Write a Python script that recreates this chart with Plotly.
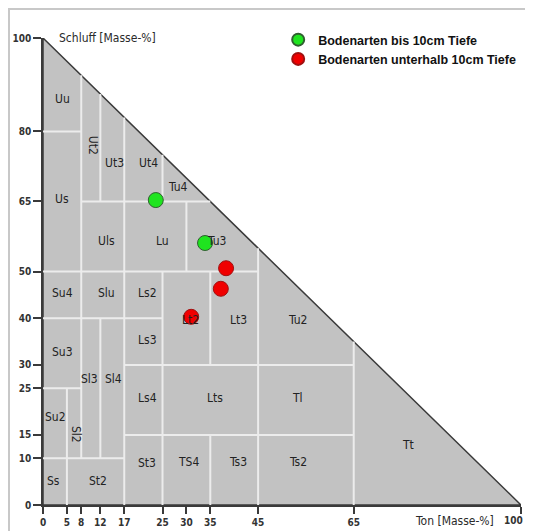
import plotly.graph_objects as go

# tick positions (Ton = x, Schluff = y)
ton_ticks = [0, 5, 8, 12, 17, 25, 30, 35, 45, 65, 100]
schluff_ticks = [0, 10, 15, 25, 30, 40, 50, 65, 80, 100]

# class boundaries
# horizontal: (schluff, ton_from, ton_to)
h_lines = [(80, 0, 8), (65, 8, 35), (50, 0, 45), (40, 0, 25),
           (30, 17, 65), (25, 0, 8), (15, 17, 65), (10, 0, 17)]
# vertical: (ton, schluff_from, schluff_to)
v_lines = [(5, 0, 25), (8, 10, 92), (12, 10, 40), (12, 65, 88), (17, 0, 83),
           (25, 0, 50), (25, 65, 75), (30, 50, 65), (35, 0, 15), (35, 30, 50),
           (45, 0, 55), (65, 0, 35)]

# class labels
class_names = ["Uu", "Ut2", "Ut3", "Ut4", "Tu4", "Us", "Uls", "Lu", "Tu3",
               "Su4", "Slu", "Ls2", "Lt2", "Lt3", "Tu2", "Su3", "Ls3", "Sl3",
               "Sl4", "Ls4", "Lts", "Tl", "Su2", "Sl2", "Ss", "St2", "St3",
               "TS4", "Ts3", "Ts2", "Tt"]
class_ton = [4.0, 10.5, 14.9, 22.0, 28.2, 4.0, 13.2, 25.1, 36.2,
             4.0, 13.2, 21.8, 30.8, 40.8, 53.3, 4.0, 21.8, 9.8,
             14.7, 21.8, 36.0, 53.3, 2.7, 6.9, 2.3, 11.5, 21.8,
             30.5, 40.8, 53.3, 76.4]
class_schluff = [86.9, 77.1, 73.2, 73.2, 68.1, 65.5, 56.5, 56.5, 56.5,
                 45.4, 45.4, 45.4, 39.6, 39.6, 39.6, 32.8, 35.3, 27.0,
                 27.0, 22.9, 22.9, 22.9, 18.8, 15.0, 5.1, 5.1, 9.0,
                 9.2, 9.2, 9.2, 12.8]
rotated = {"Ut2", "Sl2"}

# samples
top_ton = [23.6, 33.9]
top_schluff = [65.3, 56.1]
sub_ton = [38.3, 37.2, 31.0]
sub_schluff = [50.7, 46.3, 40.3]

label_font = "DejaVu Sans Condensed, Lato, sans-serif"
tick_font = dict(family=label_font, size=10, color="#333333", weight="bold")

fig = go.Figure()

# triangle
fig.add_trace(go.Scatter(
    x=[0, 100, 0, 0], y=[0, 0, 100, 0],
    mode="lines", fill="toself", fillcolor="#c2c2c2",
    line=dict(color="#3a3a3a", width=1.5),
    hoverinfo="skip", showlegend=False
))

# white boundary lines
bx, by = [], []
for u, t0, t1 in h_lines:
    bx += [t0, t1, None]
    by += [u, u, None]
for t, u0, u1 in v_lines:
    bx += [t, t, None]
    by += [u0, u1, None]
fig.add_trace(go.Scatter(
    x=bx, y=by, mode="lines",
    line=dict(color="#ececec", width=2),
    hoverinfo="skip", showlegend=False
))

# sample points
fig.add_trace(go.Scatter(
    x=top_ton, y=top_schluff, mode="markers",
    name="Bodenarten bis 10cm Tiefe",
    marker=dict(size=15, color="#1fe41f", line=dict(color="#2f5f2f", width=1))
))
fig.add_trace(go.Scatter(
    x=sub_ton, y=sub_schluff, mode="markers",
    name="Bodenarten unterhalb 10cm Tiefe",
    marker=dict(size=15, color="#f00000", line=dict(color="#a01010", width=1))
))

for name, t, u in zip(class_names, class_ton, class_schluff):
    fig.add_annotation(
        x=t, y=u, text=name, showarrow=False,
        textangle=90 if name in rotated else 0,
        font=dict(family=label_font, size=12, color="#222222")
    )

# axis titles
fig.add_annotation(
    x=2.9, y=100, text="Schluff [Masse-%]", showarrow=False,
    xanchor="left", yanchor="middle",
    font=dict(family=label_font, size=12, color="#2a2a2a")
)
fig.add_annotation(
    x=77.5, y=0, yshift=-16, text="Ton [Masse-%]", showarrow=False,
    xanchor="left", yanchor="middle",
    font=dict(family=label_font, size=12, color="#2a2a2a")
)

# last x tick label, kept inside the page edge
x_ticktext = [str(v) for v in ton_ticks]
x_ticktext[-1] = ""
fig.add_annotation(
    x=ton_ticks[-1], y=0, yshift=-15, xshift=4, text=str(ton_ticks[-1]),
    showarrow=False, xanchor="right", yanchor="middle", font=tick_font
)

# frame on top/left of picture
fig.add_shape(type="line", xref="paper", yref="paper",
              x0=-35 / 478, x1=1.03, y0=496 / 467, y1=496 / 467,
              line=dict(color="#c8c8c8", width=2))
fig.add_shape(type="line", xref="paper", yref="paper",
              x0=-34 / 478, x1=-34 / 478, y0=-0.06, y1=497 / 467,
              line=dict(color="#c8c8c8", width=2))

axis_common = dict(
    range=[0, 100], showgrid=False, zeroline=False, automargin=False,
    showline=True, linecolor="#3a3a3a", linewidth=1.5,
    ticks="outside", tickcolor="#3a3a3a", tickwidth=1.5,
    tickfont=tick_font, fixedrange=True
)
fig.update_xaxes(tickvals=ton_ticks, ticktext=x_ticktext, ticklen=7, **axis_common)
fig.update_yaxes(tickvals=schluff_ticks, ticklen=8, **axis_common)

fig.update_layout(
    width=525, height=523,
    margin=dict(l=35, r=12, t=30, b=26, autoexpand=False),
    paper_bgcolor="white", plot_bgcolor="white",
    showlegend=True,
    legend=dict(
        x=0.492, y=1.0278, xanchor="left", yanchor="top",
        bgcolor="rgba(0,0,0,0)",
        font=dict(family="Liberation Sans", size=12.5, color="#111111", weight="bold"),
        itemsizing="constant", tracegroupgap=0
    )
)

fig.write_html("out.html")
